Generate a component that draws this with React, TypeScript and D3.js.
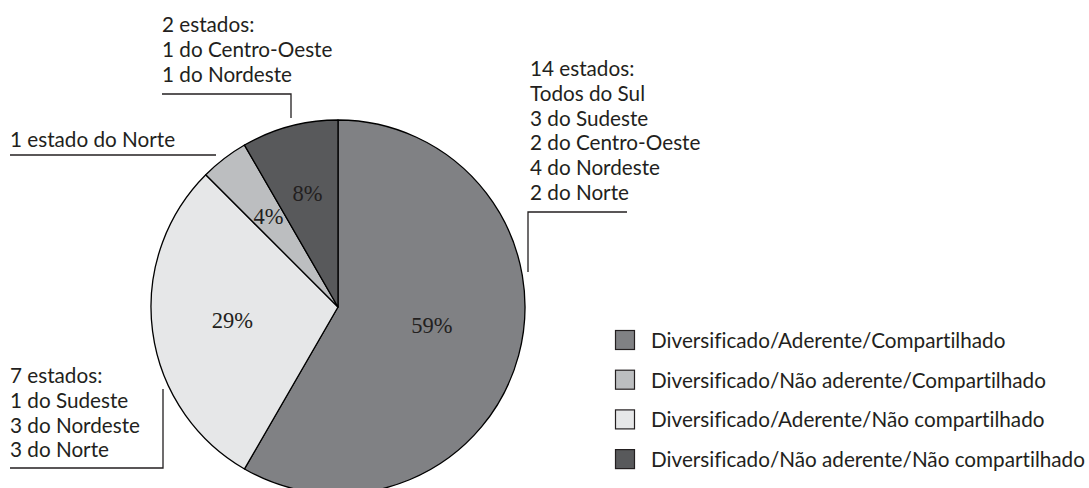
import React from "react";
import * as d3 from "d3";

// ---- data ----
const categories = [
  "Diversificado/Aderente/Compartilhado",
  "Diversificado/Não aderente/Compartilhado",
  "Diversificado/Aderente/Não compartilhado",
  "Diversificado/Não aderente/Não compartilhado",
];
const stateCounts = [14, 1, 7, 2];
const percentLabels = ["59%", "4%", "29%", "8%"];
const annotationLines = [
  ["14 estados:", "Todos do Sul", "3 do Sudeste", "2 do Centro-Oeste", "4 do Nordeste", "2 do Norte"],
  ["1 estado do Norte"],
  ["7 estados:", "1 do Sudeste", "3 do Nordeste", "3 do Norte"],
  ["2 estados:", "1 do Centro-Oeste", "1 do Nordeste"],
];

// ---- style / layout ----
const W = 1089;
const H = 488;
const colors = ["#808184", "#bcbec0", "#e6e7e8", "#58595b"];
const pieOrder = [0, 2, 1, 3];
const cx = 338;
const cy = 307;
const R = 187;
const labelRadius = [0.52, 0.61, 0.57, 0.63];
const labelNudgeY = [-7, 0, 0, 0];
const sansFont = "Lato, 'Open Sans', sans-serif";
const serifFont = "'Liberation Serif', 'DejaVu Serif', serif";
const fontSize = 20.7;
const lineH = 24.8;

// annotation text anchor (x, first baseline) and leader polyline
const annLayout = [
  { x: 530, y: 76, path: [[627, 212], [528, 212], [528, 272]] },
  { x: 10, y: 147, path: [[10, 155], [216, 155]] },
  { x: 10, y: 383, path: [[10, 468], [163, 468], [163, 389]] },
  { x: 162, y: 32, path: [[162, 94], [291, 94], [291, 118]] },
];
const legend = { x: 615, y: 340, step: 39.7, box: 19, textX: 651 };

export default function App() {
  const pieGen = d3
    .pie<number>()
    .sort(null)
    .value((i) => stateCounts[i]);
  const arcs = pieGen(pieOrder);
  const arcGen = d3.arc<d3.PieArcDatum<number>>().innerRadius(0).outerRadius(R);
  const line = d3.line();
  const noLig = { fontVariantLigatures: "none" as const };

  return (
    <svg
      width={W}
      height={H}
      style={{ position: "absolute", left: 0, top: 0, background: "#fff" }}
    >
      <g transform={`translate(${cx},${cy})`}>
        {arcs.map((a) => (
          <path
            key={a.data}
            d={arcGen(a) || ""}
            fill={colors[a.data]}
            stroke="#000"
            strokeWidth={1.3}
            strokeLinejoin="round"
          />
        ))}
        {arcs.map((a) => {
          const lr = R * labelRadius[a.data];
          const [lx, ly] = d3
            .arc<d3.PieArcDatum<number>>()
            .innerRadius(lr)
            .outerRadius(lr)
            .centroid(a);
          return (
            <text
              key={"l" + a.data}
              x={lx}
              y={ly + labelNudgeY[a.data]}
              textAnchor="middle"
              dominantBaseline="central"
              fontFamily={serifFont}
              fontSize={22.5}
              fill="#231f20"
            >
              {percentLabels[a.data]}
            </text>
          );
        })}
      </g>

      {annotationLines.map((lines, i) => (
        <g key={"a" + i}>
          <text fontFamily={sansFont} fontSize={fontSize} fill="#231f20" style={noLig}>
            {lines.map((t, j) => (
              <tspan key={j} x={annLayout[i].x} y={annLayout[i].y + j * lineH}>
                {t}
              </tspan>
            ))}
          </text>
          <path
            d={line(annLayout[i].path as [number, number][]) || ""}
            fill="none"
            stroke="#231f20"
            strokeWidth={1.3}
          />
        </g>
      ))}

      {categories.map((c, i) => (
        <g key={"lg" + i} transform={`translate(0,${legend.y + i * legend.step})`}>
          <rect
            x={legend.x + 0.5}
            y={-legend.box / 2}
            width={legend.box}
            height={legend.box}
            fill={colors[i]}
            stroke="#231f20"
            strokeWidth={1.2}
          />
          <text
            x={legend.textX}
            y={0}
            dominantBaseline="central"
            fontFamily={sansFont}
            fontSize={fontSize}
            fill="#231f20"
            style={noLig}
          >
            {c}
          </text>
        </g>
      ))}
    </svg>
  );
}
